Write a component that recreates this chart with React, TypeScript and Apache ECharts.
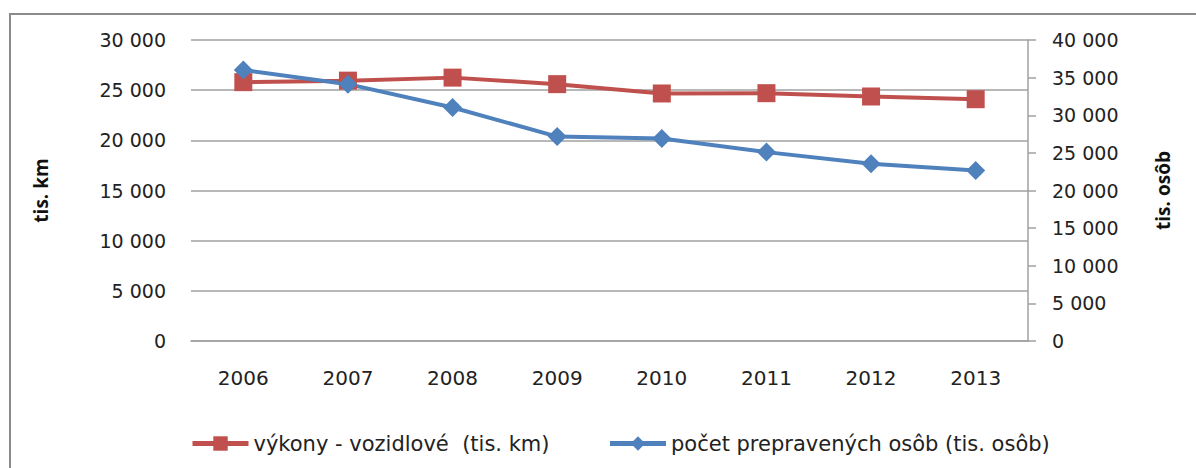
import React, { useEffect, useRef } from "react";
import * as echarts from "echarts";

const years = ["2006", "2007", "2008", "2009", "2010", "2011", "2012", "2013"];
const vykony = [25800, 25950, 26250, 25600, 24670, 24700, 24370, 24100];
const osoby = [36000, 34130, 31030, 27160, 26900, 25100, 23560, 22670];
const seriesNames = ["výkony - vozidlové  (tis. km)", "počet prepravených osôb (tis. osôb)"];
const leftTitle = "tis. km";
const rightTitle = "tis. osôb";

const fmt = (v: number) => String(v).replace(/\B(?=(\d{3})+(?!\d))/g, " ");

export default function App() {
  const ref = useRef<HTMLDivElement>(null);
  useEffect(() => {
    document.body.style.margin = "0";
    const chart = echarts.init(ref.current!, null, { renderer: "svg" });
    const tickFont = { fontFamily: "DejaVu Sans", fontSize: 19, color: "#222" };
    chart.setOption({
      animation: false,
      backgroundColor: "#fff",
      grid: { left: 191, right: 168, top: 40, bottom: 127, containLabel: false },
      graphic: [
        {
          type: "rect",
          shape: { x: 10, y: 14, width: 1400, height: 700 },
          style: { fill: "none", stroke: "#8a8a8a", lineWidth: 2 },
          silent: true,
        },
      ],
      legend: {
        left: 185,
        top: 428,
        itemWidth: 56,
        itemHeight: 18,
        itemGap: 58,
        textStyle: { fontFamily: "DejaVu Sans", fontSize: 21, color: "#222" },
        lineStyle: { width: 5 },
        data: seriesNames,
      },
      xAxis: {
        type: "category",
        data: years,
        boundaryGap: true,
        axisLine: { show: true, lineStyle: { color: "#a0a0a0", width: 1.5 } },
        axisTick: { show: false },
        axisLabel: { ...tickFont, fontSize: 20, margin: 27 },
      },
      yAxis: [
        {
          type: "value",
          min: 0,
          max: 30000,
          interval: 5000,
          position: "left",
          name: leftTitle,
          nameLocation: "middle",
          nameRotate: 90,
          nameGap: 141,
          nameTextStyle: { fontFamily: "Open Sans", fontSize: 19, fontWeight: "bold", color: "#111" },
          axisLine: { show: false },
          axisTick: { show: false },
          axisLabel: { ...tickFont, margin: 25, formatter: fmt },
          splitLine: { show: true, lineStyle: { color: "#a0a0a0", width: 1.5 } },
        },
        {
          type: "value",
          min: 0,
          max: 40000,
          interval: 5000,
          position: "right",
          name: rightTitle,
          nameLocation: "middle",
          nameRotate: 90,
          nameGap: 125,
          nameTextStyle: { fontFamily: "Open Sans", fontSize: 19, fontWeight: "bold", color: "#111" },
          axisLine: { show: true, lineStyle: { color: "#a0a0a0", width: 1.5 } },
          axisTick: { show: true, inside: false, length: 8, lineStyle: { color: "#a0a0a0", width: 1.5 } },
          axisLabel: { ...tickFont, margin: 24, formatter: fmt },
          splitLine: { show: false },
        },
      ],
      series: [
        {
          name: seriesNames[0],
          type: "line",
          yAxisIndex: 0,
          data: vykony,
          symbol: "rect",
          symbolSize: 18,
          itemStyle: { color: "#C0504D" },
          lineStyle: { color: "#C0504D", width: 4 },
        },
        {
          name: seriesNames[1],
          type: "line",
          yAxisIndex: 1,
          data: osoby,
          symbol: "diamond",
          symbolSize: [19, 19],
          itemStyle: { color: "#4F81BD" },
          lineStyle: { color: "#4F81BD", width: 4 },
        },
      ],
    });
    return () => chart.dispose();
  }, []);
  return <div ref={ref} style={{ width: 1196, height: 468 }} />;
}
